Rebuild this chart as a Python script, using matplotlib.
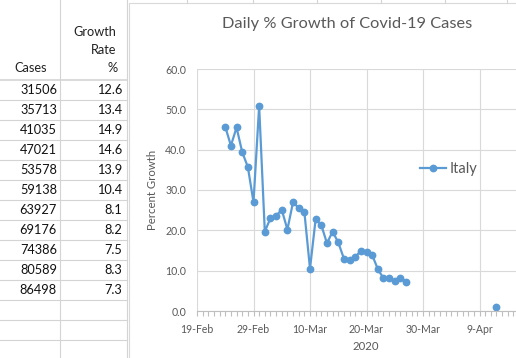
import numpy as np
import pandas as pd
import matplotlib
matplotlib.use('Agg')
import matplotlib.pyplot as plt
import matplotlib.dates as mdates
import matplotlib.ticker as mtick
from matplotlib.patches import Rectangle

plt.rcParams['font.family'] = ['Lato', 'DejaVu Sans']

## -------------------------------------------------------------------------- ##
# Italy, daily % growth (chart)
dates = list(pd.date_range('2020-02-24', '2020-03-27')) + [pd.Timestamp('2020-04-12')]
growth = [45.7, 41.0, 45.5, 39.4, 35.7, 27.0,
          50.8, 19.7, 23.0, 23.6, 25.1, 20.2, 27.0, 25.5, 24.6, 10.5,
          22.8, 21.3, 16.8, 19.7, 17.0, 13.0,
          12.6, 13.4, 14.9, 14.6, 13.9, 10.4, 8.1, 8.2, 7.5, 8.3, 7.3,
          1.1]
series_name = 'Italy'

# spreadsheet cells left of the chart
cases = [31506, 35713, 41035, 47021, 53578, 59138, 63927, 69176, 74386, 80589, 86498]
rate = [12.6, 13.4, 14.9, 14.6, 13.9, 10.4, 8.1, 8.2, 7.5, 8.3, 7.3]
## -------------------------------------------------------------------------- ##
W, H = 516, 358
blue = '#5B9BD5'
txt = '#595959'
sheet_grid = '#D4D4D4'

fig = plt.figure(figsize=(W/100, H/100), dpi=100)

# sheet background in pixel coords
bg = fig.add_axes([0, 0, 1, 1])
bg.set_xlim(0, W)
bg.set_ylim(H, 0)
bg.axis('off')

for y in range(80, 341, 20):
  bg.plot([0, 127], [y, y], color=sheet_grid, lw=0.8 if y > 80 else 1.2)
bg.plot([60, 60], [0, H], color=sheet_grid, lw=0.8)
bg.plot([126.5, 126.5], [0, H], color=sheet_grid, lw=0.8)
for x in [187, 253, 317, 381, 445, 507]:
  bg.plot([x, x], [0, 3], color=sheet_grid, lw=0.8)

bg.text(31, 68, 'Cases', ha='center', va='center', fontsize=9.2, color='#222222')
bg.text(116.5, 32, 'Growth', ha='right', va='center', fontsize=9.2, color='#222222')
bg.text(116.5, 50, 'Rate', ha='right', va='center', fontsize=9.2, color='#222222')
bg.text(117.5, 68, '%', ha='right', va='center', fontsize=9.2, color='#222222')
for i, (c, r) in enumerate(zip(cases, rate)):
  yc = 90 + 20*i
  bg.text(57, yc, str(c), ha='right', va='center', fontsize=9.2, color='#111111')
  bg.text(122, yc, '%.1f' % r, ha='right', va='center', fontsize=9.2, color='#111111')

# chart area
bg.add_patch(Rectangle((128.5, 2.5), 420, 420, facecolor='white',
                       edgecolor='#D9D9D9', lw=0.8))

## -------------------------------------------------------------------------- ##
s = pd.Series(growth, index=pd.DatetimeIndex(dates)).asfreq('D')

ax = fig.add_axes([197/W, (H-311)/H, 339/W, 242/H])
ax.set_facecolor('none')
ax.plot(s.index, s.values, '-o', color=blue, lw=1.6, ms=4.6, label=series_name)

ax.set_xlim(pd.Timestamp('2020-02-19'), pd.Timestamp('2020-04-19'))
ax.set_ylim(0, 60)

major = mdates.date2num(pd.date_range('2020-02-19', periods=6, freq='10D'))
ax.xaxis.set_major_locator(mtick.FixedLocator(major))
ax.xaxis.set_minor_locator(mtick.MultipleLocator(1))
ax.xaxis.set_major_formatter(mtick.FuncFormatter(
  lambda v, p: '%d-%s' % (mdates.num2date(v).day, mdates.num2date(v).strftime('%b'))))
ax.yaxis.set_major_locator(mtick.MultipleLocator(10))
ax.yaxis.set_major_formatter(mtick.FormatStrFormatter('%.1f'))

for sp in ['top', 'right', 'left']:
  ax.spines[sp].set_visible(False)
ax.spines['bottom'].set_color('#BFBFBF')
ax.spines['bottom'].set_linewidth(0.8)

ax.set_axisbelow(True)
ax.grid(True, which='major', color='#D9D9D9', lw=0.8)
ax.tick_params(axis='x', which='both', direction='out', length=3.5, width=0.8,
               color='#BFBFBF', labelsize=7.6, labelcolor=txt, pad=6)
ax.tick_params(axis='y', length=0, labelsize=7.6, labelcolor=txt, pad=8)

ax.legend(loc='center left', bbox_to_anchor=((420-197)/339, (311-169)/242),
          frameon=False, fontsize=10.5, handlelength=1.8, handletextpad=0.25,
          borderpad=0, borderaxespad=0, labelcolor=txt)

fig.text(347/W, 1-24/H, 'Daily % Growth of Covid-19 Cases', ha='center',
         va='center', fontsize=11.8, color=txt)
fig.text(153/W, 1-190/H, 'Percent Growth', ha='center', va='center',
         rotation=90, fontsize=8.2, color=txt)
fig.text(366/W, 1-346/H, '2020', ha='center', va='center', fontsize=8.2, color=txt)

fig.savefig('out.png', dpi=100)
